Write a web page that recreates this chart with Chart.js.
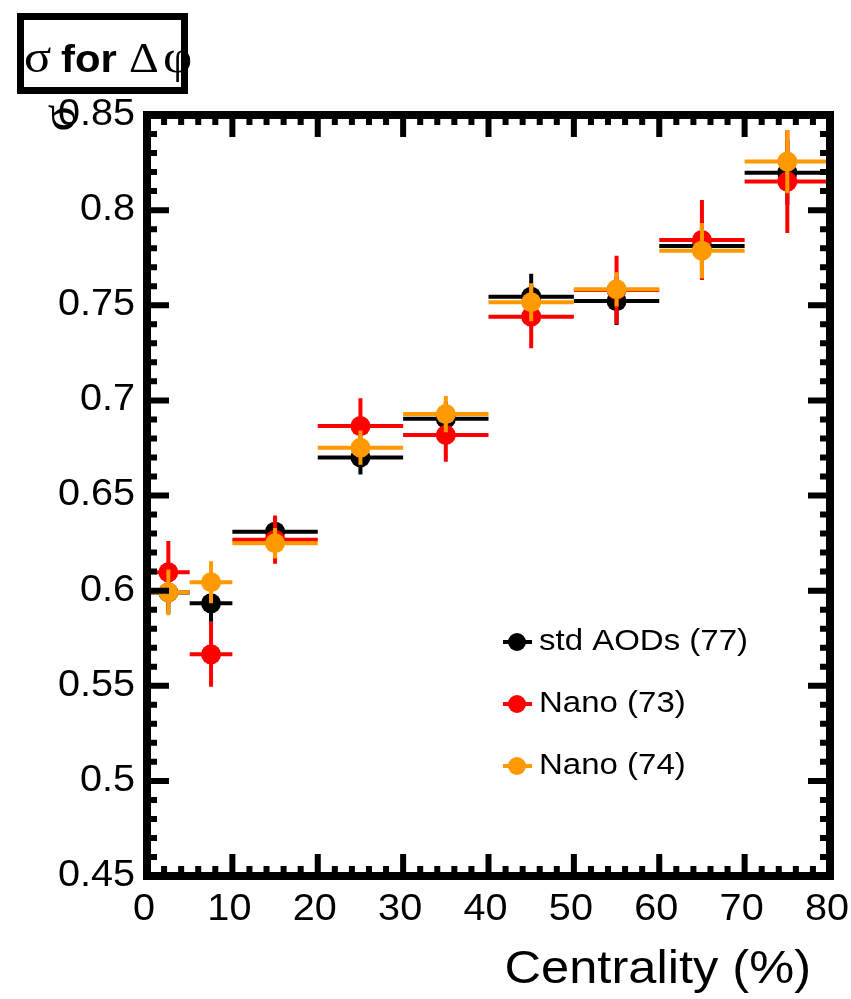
<!DOCTYPE html>
<html>
<head>
<meta charset="utf-8">
<title>sigma for delta phi</title>
<script src="https://cdn.jsdelivr.net/npm/chart.js@4.4.0/dist/chart.umd.min.js"></script>
<style>
  body { margin: 0; background: #fff; }
  #wrap { width: 851px; height: 999px; }
</style>
</head>
<body>
<div id="wrap"><canvas id="sigmaChart" width="851" height="999"></canvas></div>
<script>
'use strict';

// centrality bins (%)
var binCenters = [2.5, 7.5, 15, 25, 35, 45, 55, 65, 75];
var binHalfWidths = [2.5, 2.5, 5, 5, 5, 5, 5, 5, 5];

// sigma of the delta-phi peak per sample
var stdAOD = [0.599, 0.5933, 0.631, 0.670, 0.6904, 0.7545, 0.7522, 0.7811, 0.8197];
var stdAODErr = [0.011, 0.0096, 0.008, 0.009, 0.009, 0.012, 0.0126, 0.013, 0.017];
var nano73 = [0.6096, 0.5665, 0.6268, 0.6865, 0.6818, 0.744, 0.758, 0.7843, 0.815];
var nano73Err = [0.0165, 0.017, 0.0127, 0.0146, 0.014, 0.0166, 0.018, 0.021, 0.027];
var nano74 = [0.5991, 0.6044, 0.6249, 0.6751, 0.6928, 0.7516, 0.7584, 0.7787, 0.8255];
var nano74Err = [0.012, 0.011, 0.008, 0.009, 0.0095, 0.010, 0.009, 0.0145, 0.0166];

var seriesLabels = ['std AODs (77)', 'Nano (73)', 'Nano (74)'];
var seriesColors = ['#000000', '#ff0000', '#ff9900'];

var xTickValues = [0, 10, 20, 30, 40, 50, 60, 70, 80];
var xTickLabels = ['0', '10', '20', '30', '40', '50', '60', '70', '80'];
var yTickValues = [0.45, 0.5, 0.55, 0.6, 0.65, 0.7, 0.75, 0.8, 0.85];
var yTickLabels = ['0.45', '0.5', '0.55', '0.6', '0.65', '0.7', '0.75', '0.8', '0.85'];

var xTitle = 'Centrality (%)';
var yTitle = '\u03c3';

var SANS = '"Liberation Sans", Arial, Helvetica, sans-serif';
var SERIF = '"Liberation Serif", "Times New Roman", serif';
var TEXT_STRETCH = 1.1;   // text is a bit wide in this style

var toPoints = function(values){
  return values.map(function(v, i){ return {x: binCenters[i], y: v}; });
};

var makeDataset = function(idx, values, errors, order){
  return {
    label: seriesLabels[idx],
    data: toPoints(values),
    yErr: errors,
    xErr: binHalfWidths,
    backgroundColor: seriesColors[idx],
    borderWidth: 0,
    pointRadius: 10,
    pointHoverRadius: 10,
    showLine: false,
    order: order
  };
};

var wideText = function(ctx, text, x, y, font, align, baseline){
  ctx.save();
  ctx.font = font;
  ctx.textAlign = align;
  ctx.textBaseline = baseline;
  ctx.translate(x, y);
  ctx.scale(TEXT_STRETCH, 1);
  ctx.fillText(text, 0, 0);
  var w = ctx.measureText(text).width * TEXT_STRETCH;
  ctx.restore();
  return w;
};

// error bars go under each series' own markers, frame/ticks/labels on top
var rootStyle = {
  id: 'rootStyle',
  beforeDatasetDraw: function(chart, args){
    var ds = chart.data.datasets[args.index];
    var xs = chart.scales.x, ys = chart.scales.y, ctx = chart.ctx;
    ctx.save();
    ctx.strokeStyle = ds.backgroundColor;
    ctx.lineWidth = 4;
    ctx.lineCap = 'butt';
    ctx.beginPath();
    ds.data.forEach(function(p, i){
      var px = xs.getPixelForValue(p.x);
      var py = ys.getPixelForValue(p.y);
      ctx.moveTo(xs.getPixelForValue(p.x - ds.xErr[i]), py);
      ctx.lineTo(xs.getPixelForValue(p.x + ds.xErr[i]), py);
      ctx.moveTo(px, ys.getPixelForValue(p.y - ds.yErr[i]));
      ctx.lineTo(px, ys.getPixelForValue(p.y + ds.yErr[i]));
    });
    ctx.stroke();
    ctx.restore();
  },
  afterDraw: function(chart){
    var ctx = chart.ctx, a = chart.chartArea;
    var xs = chart.scales.x, ys = chart.scales.y;
    var i, v, px, py, len;

    ctx.save();
    // thick frame
    ctx.strokeStyle = '#000';
    ctx.lineWidth = 8;
    ctx.strokeRect(a.left, a.top, a.right - a.left, a.bottom - a.top);

    // inward ticks on all four sides
    ctx.lineWidth = 6;
    ctx.beginPath();
    for (i = 0; i <= 40; i++) {
      v = xs.min + i * 2;
      px = xs.getPixelForValue(v);
      len = (i % 5 === 0) ? 22 : 10;
      ctx.moveTo(px, a.bottom); ctx.lineTo(px, a.bottom - len);
      ctx.moveTo(px, a.top); ctx.lineTo(px, a.top + len);
    }
    for (i = 0; i <= 40; i++) {
      v = ys.min + i * 0.01;
      py = ys.getPixelForValue(v);
      len = (i % 5 === 0) ? 22 : 10;
      ctx.moveTo(a.left, py); ctx.lineTo(a.left + len, py);
      ctx.moveTo(a.right, py); ctx.lineTo(a.right - len, py);
    }
    ctx.stroke();

    // tick labels
    ctx.fillStyle = '#000';
    xTickValues.forEach(function(tv, k){
      wideText(ctx, xTickLabels[k], xs.getPixelForValue(tv) - 3, 920, '36px ' + SANS, 'center', 'alphabetic');
    });
    yTickValues.forEach(function(tv, k){
      wideText(ctx, yTickLabels[k], 135, ys.getPixelForValue(tv), '36px ' + SANS, 'right', 'middle');
    });

    // axis titles
    wideText(ctx, xTitle, 811, 983, '46px ' + SANS, 'right', 'alphabetic');

    ctx.save();
    ctx.translate(62, 118);
    ctx.rotate(-Math.PI / 2);
    ctx.font = '50px ' + SERIF;
    ctx.textAlign = 'center';
    ctx.textBaseline = 'middle';
    ctx.fillText(yTitle, 0, 0);
    ctx.restore();

    // legend inside the frame
    var legendRows = [642, 704, 766];
    chart.data.datasets.forEach(function(ds, k){
      var ly = legendRows[k];
      ctx.strokeStyle = ds.backgroundColor;
      ctx.fillStyle = ds.backgroundColor;
      ctx.lineWidth = 4;
      ctx.beginPath();
      ctx.moveTo(503, ly); ctx.lineTo(532, ly);
      ctx.stroke();
      ctx.beginPath();
      ctx.arc(517, ly, 9, 0, Math.PI * 2);
      ctx.fill();
      ctx.fillStyle = '#000';
      wideText(ctx, ds.label, 539, ly, '30px ' + SANS, 'left', 'middle');
    });

    // boxed title
    ctx.strokeStyle = '#000';
    ctx.lineWidth = 7;
    ctx.strokeRect(20.5, 16.5, 164, 74);
    ctx.fillStyle = '#000';
    wideText(ctx, '\u03c3', 24, 72, '46px ' + SERIF, 'left', 'alphabetic');
    wideText(ctx, 'for', 61, 72, 'bold 38px ' + SANS, 'left', 'alphabetic');
    wideText(ctx, '\u0394', 129, 72, '42px ' + SERIF, 'left', 'alphabetic');
    wideText(ctx, '\u03c6', 163, 72, '46px ' + SERIF, 'left', 'alphabetic');

    ctx.restore();
  }
};

var ctx = document.getElementById('sigmaChart');
var sigmaChart = new Chart(ctx, {
  type: 'scatter',
  data: {
    datasets: [
      makeDataset(0, stdAOD, stdAODErr, 2),
      makeDataset(1, nano73, nano73Err, 1),
      makeDataset(2, nano74, nano74Err, 0)
    ]
  },
  options: {
    responsive: false,
    animation: false,
    layout: { padding: { top: 115, right: 21, bottom: 0, left: 0 } },
    plugins: {
      legend: { display: false },
      tooltip: { enabled: false },
      title: { display: false }
    },
    scales: {
      x: {
        type: 'linear',
        min: 0,
        max: 80,
        grid: { display: false, drawTicks: false },
        border: { display: false },
        afterBuildTicks: function(scale){
          scale.ticks = xTickValues.map(function(v){ return {value: v}; });
        },
        afterFit: function(scale){
          scale.height = 123;
          scale.paddingLeft = 0;
          scale.paddingRight = 0;
        },
        ticks: { display: false }
      },
      y: {
        type: 'linear',
        min: 0.45,
        max: 0.85,
        grid: { display: false, drawTicks: false },
        border: { display: false },
        afterBuildTicks: function(scale){
          scale.ticks = yTickValues.map(function(v){ return {value: v}; });
        },
        afterFit: function(scale){
          scale.width = 147;
          scale.paddingTop = 0;
          scale.paddingBottom = 0;
        },
        ticks: { display: false }
      }
    }
  },
  plugins: [rootStyle]
});
</script>
</body>
</html>
